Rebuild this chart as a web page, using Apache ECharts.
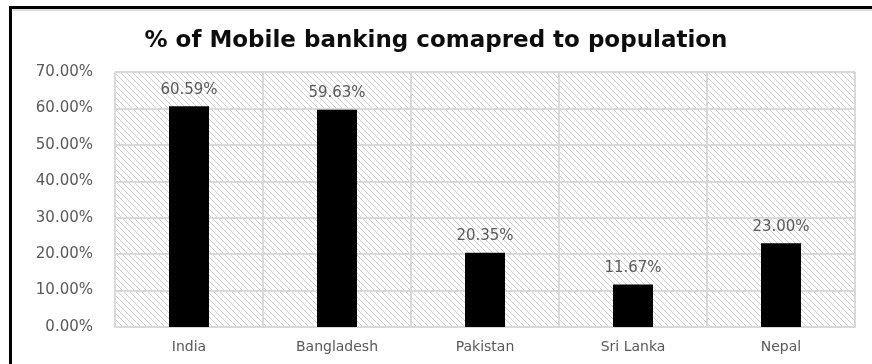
<!DOCTYPE html>
<html>
<head>
<meta charset="utf-8">
<script src="https://cdn.jsdelivr.net/npm/echarts@6/dist/echarts.min.js"></script>
<style>
	html, body { margin: 0; padding: 0; background: #fff; }
	#chart { width: 872px; height: 364px; }
</style>
</head>
<body>
<div id="chart"></div>
<script>
var countries = ['India', 'Bangladesh', 'Pakistan', 'Sri Lanka', 'Nepal'];
var mobileBanking = [60.59, 59.63, 20.35, 11.67, 23.00];
var yTicks = [0, 10, 20, 30, 40, 50, 60, 70];

// hatch pattern for the plot background
function makeHatch() {
	var c = document.createElement('canvas');
	c.width = 6;
	c.height = 6;
	var ctx = c.getContext('2d');
	ctx.fillStyle = '#fff';
	ctx.fillRect(0, 0, 6, 6);
	ctx.strokeStyle = '#d0d0d0';
	ctx.lineWidth = 1;
	ctx.beginPath();
	ctx.moveTo(-1, -1);
	ctx.lineTo(7, 7);
	ctx.moveTo(-1, 5);
	ctx.lineTo(1, 7);
	ctx.moveTo(5, -1);
	ctx.lineTo(7, 1);
	ctx.stroke();
	return c;
}

var myChart = echarts.init(document.getElementById('chart'));
myChart.setOption({
	animation: false,
	title: {
		text: '% of Mobile banking comapred to population',
		left: 'center',
		top: 25,
		textStyle: {
			fontFamily: 'DejaVu Sans',
			fontWeight: 'bold',
			fontSize: 23,
			color: '#0d0d0d'
		}
	},
	graphic: [{
		type: 'rect',
		shape: { x: 10, y: 6, width: 872, height: 3 },
		style: { fill: '#000' }
	}, {
		type: 'rect',
		shape: { x: 9, y: 6, width: 3, height: 364 },
		style: { fill: '#000' }
	}, {
		type: 'rect',
		shape: { x: 12, y: 9, width: 860, height: 2 },
		style: { fill: '#ddd' }
	}],
	grid: {
		left: 115,
		right: 17,
		top: 72,
		bottom: 37,
		show: true,
		borderWidth: 0,
		backgroundColor: {
			image: makeHatch(),
			repeat: 'repeat'
		}
	},
	xAxis: {
		type: 'category',
		data: countries,
		axisTick: { show: false },
		axisLine: { lineStyle: { color: '#d9d9d9', width: 2 } },
		axisLabel: {
			color: '#595959',
			fontFamily: 'DejaVu Sans',
			fontSize: 14,
			margin: 13
		},
		splitLine: {
			show: true,
			lineStyle: { color: '#d9d9d9', width: 2 }
		}
	},
	yAxis: {
		type: 'value',
		min: yTicks[0],
		max: yTicks[yTicks.length - 1],
		interval: 10,
		axisLine: { show: false },
		axisTick: { show: false },
		axisLabel: {
			color: '#595959',
			fontFamily: 'DejaVu Sans',
			fontSize: 15,
			margin: 22,
			formatter: function (v) {
				return v.toFixed(2) + '%';
			}
		},
		splitLine: {
			lineStyle: { color: '#d9d9d9', width: 2 }
		}
	},
	series: [{
		type: 'bar',
		data: mobileBanking,
		barWidth: 40,
		itemStyle: { color: '#000' },
		label: {
			show: true,
			position: 'top',
			distance: 9,
			color: '#595959',
			fontFamily: 'DejaVu Sans',
			fontSize: 15,
			formatter: function (p) {
				return p.value.toFixed(2) + '%';
			}
		}
	}]
});
</script>
</body>
</html>
